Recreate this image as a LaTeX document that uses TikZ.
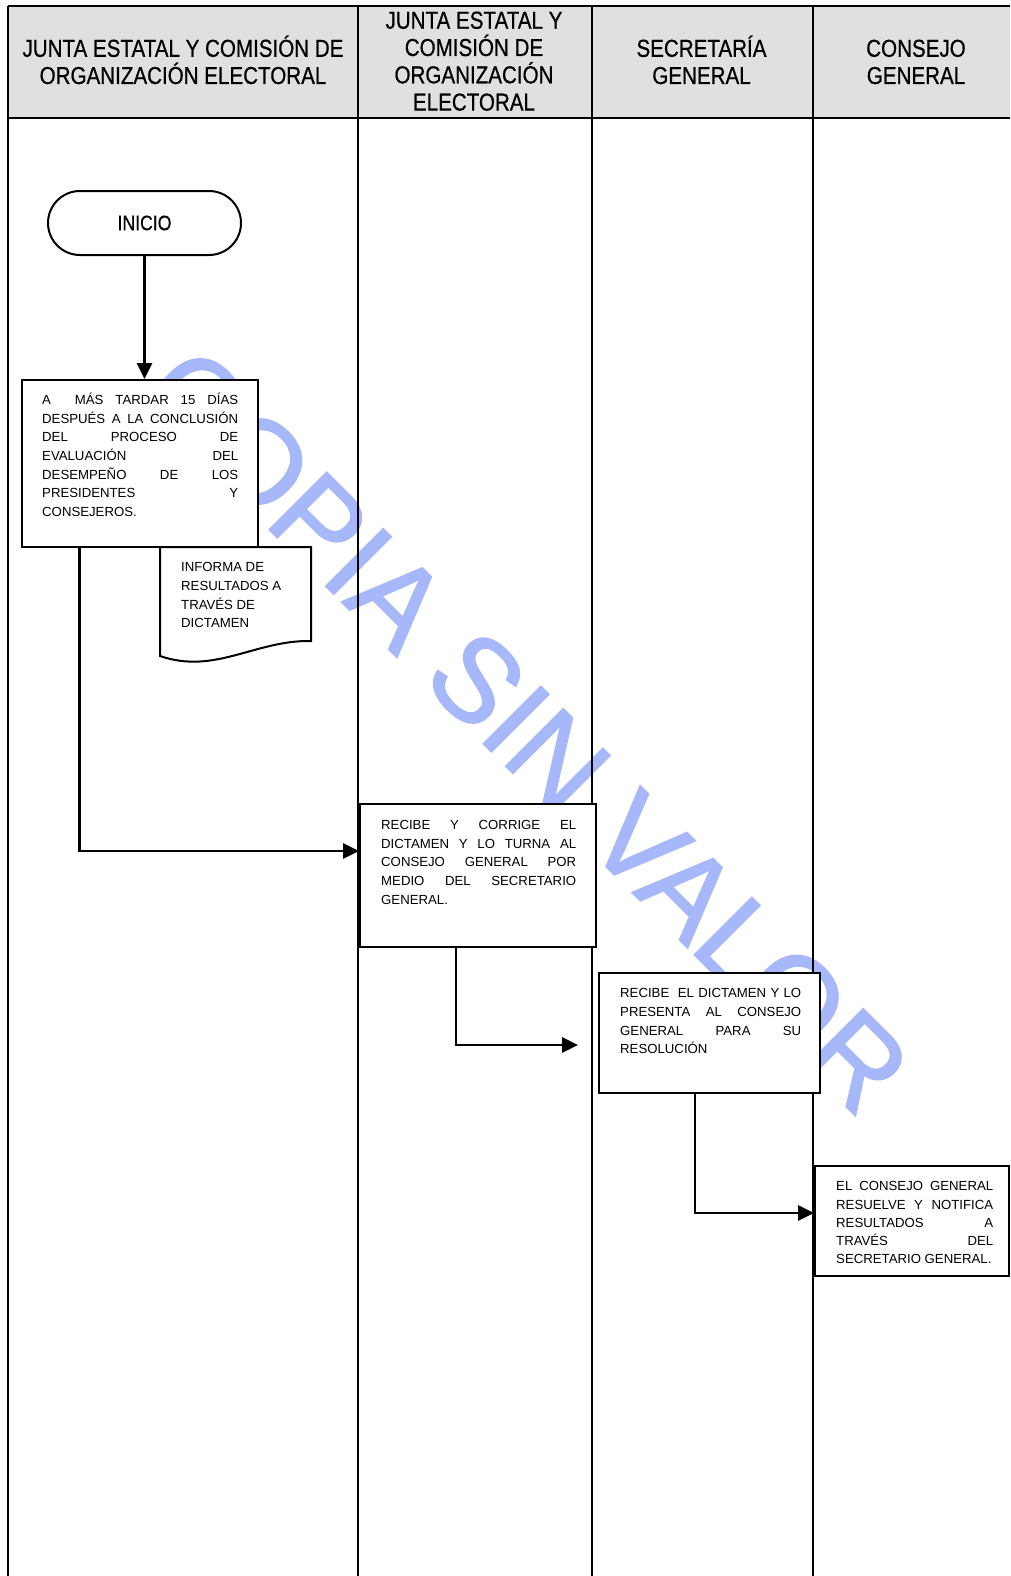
\documentclass[tikz,border=0pt]{standalone}
\usepackage{fontspec}
\setmainfont{Liberation Sans}
\newfontfamily\narrowfont[FakeStretch=0.84,FakeBold=0.6]{Liberation Sans}
\newfontfamily\wmfont[FakeBold=1.5]{Liberation Sans}
\usetikzlibrary{arrows.meta}
\definecolor{hdrgrey}{RGB}{224,224,224}
\definecolor{wmblue}{RGB}{166,183,250}
\newcommand{\jst}[1]{\makebox[\linewidth][s]{#1}}
\begin{document}
\begin{tikzpicture}[x=1pt,y=-1pt,
  lane/.style={line width=2pt},
  pbox/.style={draw, line width=2pt, fill=white, inner sep=0pt},
  txt/.style={anchor=base west, inner sep=0pt, font=\fontsize{13.2}{#1}\selectfont},
  txt/.default=18.6,
  hdr/.style={anchor=base, inner sep=0pt, font=\narrowfont\fontsize{24.5}{27.2}\selectfont},
  arr/.style={line width=2.7pt, -{Triangle[length=16pt,width=15pt]}},
  wm/.style={rotate=-45, text=wmblue, inner sep=0pt, font=\wmfont\fontsize{118}{118}\selectfont}]
\useasboundingbox (0,0) rectangle (1010,1576);
% header background
\fill[hdrgrey] (8,6) rectangle (1010,118);
% watermark
\node[wm] (wm) at (527,730) {COPIA SIN VALOR};
% lanes
\draw[lane] (8,6) -- (1010,6);
\draw[lane] (8,118) -- (1010,118);
\draw[lane] (8,6) -- (8,1576);
\draw[lane] (358,6) -- (358,1576);
\draw[lane] (592,6) -- (592,1576);
\draw[lane] (813,6) -- (813,1576);
% header texts
\node[hdr] (h1) at (183,56.8) {\parbox[t]{340pt}{\centering JUNTA ESTATAL Y COMISIÓN DE\\ORGANIZACIÓN ELECTORAL}};
\node[hdr, font=\narrowfont\fontsize{24.5}{27.3}\selectfont] (h2) at (474,28.7) {\parbox[t]{230pt}{\centering JUNTA ESTATAL Y\\COMISIÓN DE\\ORGANIZACIÓN\\ELECTORAL}};
\node[hdr] (h3) at (701.5,56.8) {\parbox[t]{210pt}{\centering SECRETARÍA\\GENERAL}};
\node[hdr] (h4) at (916,56.8) {\parbox[t]{190pt}{\centering CONSEJO\\GENERAL}};
% shapes
\node[pbox, rounded corners=32pt, minimum width=193pt, minimum height=64pt,
      font=\narrowfont\fontsize{21}{21}\selectfont] (inicio) at (144.5,223) {INICIO};
\node[pbox, minimum width=236pt, minimum height=167pt] (b1) at (140,463.5) {};
\draw[line width=2pt, fill=white] (160,547) -- (160,656) .. controls (215,675) and (255,640) .. (311,641) -- (311,547) -- cycle;
\node[pbox, minimum width=236pt, minimum height=143pt] (b2) at (478,875.5) {};
\node[pbox, minimum width=221pt, minimum height=120pt] (b3) at (709.5,1033) {};
\node[pbox, minimum width=194pt, minimum height=110pt] (b4) at (912,1221) {};
% texts in shapes
\node[txt] (t1) at (42,404.7) {\parbox[t]{196pt}{%
\jst{A \ MÁS TARDAR 15 DÍAS}\\
\jst{DESPUÉS A LA CONCLUSIÓN}\\
\jst{DEL PROCESO DE}\\
\jst{EVALUACIÓN DEL}\\
\jst{DESEMPEÑO DE LOS}\\
\jst{PRESIDENTES Y}\\
CONSEJEROS.}};
\node[txt=18.7] (tdoc) at (181,571.7) {\parbox[t]{125pt}{%
INFORMA DE\\RESULTADOS A\\TRAVÉS DE\\DICTAMEN}};
\node[txt] (t2) at (381,829.7) {\parbox[t]{195pt}{%
\jst{RECIBE Y CORRIGE EL}\\
\jst{DICTAMEN Y LO TURNA AL}\\
\jst{CONSEJO GENERAL POR}\\
\jst{MEDIO DEL SECRETARIO}\\
GENERAL.}};
\node[txt=18.7] (t3) at (620,997.7) {\parbox[t]{181pt}{%
\jst{RECIBE \ EL DICTAMEN Y LO}\\
\jst{PRESENTA AL CONSEJO}\\
\jst{GENERAL PARA SU}\\
RESOLUCIÓN}};
\node[txt=18.3] (t4) at (836,1190.7) {\parbox[t]{157pt}{%
\jst{EL CONSEJO GENERAL}\\
\jst{RESUELVE Y NOTIFICA}\\
\jst{RESULTADOS A}\\
\jst{TRAVÉS DEL}\\
SECRETARIO GENERAL.}};
% connectors
\coordinate (c1) at (79.5,851);
\coordinate (c2) at (456,1045);
\coordinate (e2) at (578,1045);
\coordinate (c3) at (695,1213);
\draw[arr] (inicio.south) -- (inicio.south |- b1.north);
\draw[arr] (b1.south -| c1) |- (c1 -| b2.west);
\draw[arr] (b2.south -| c2) |- (e2);
\draw[arr] (b3.south -| c3) |- (c3 -| b4.west);
\end{tikzpicture}
\end{document}
